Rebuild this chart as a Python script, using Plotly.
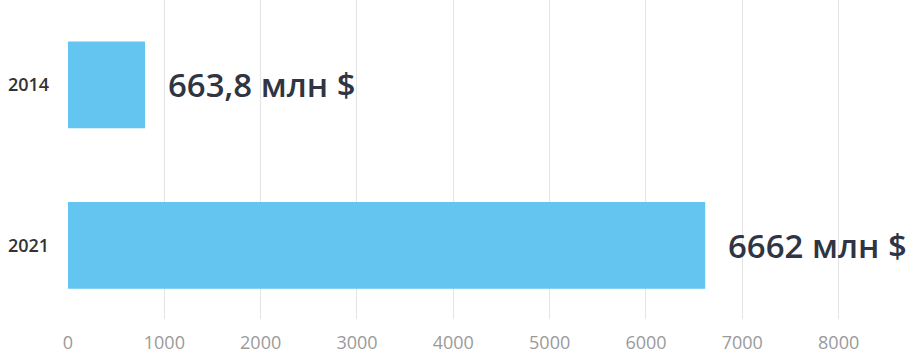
import plotly.graph_objects as go

years = ["2014", "2021"]
bar_values = [800, 6615]          # bar lengths as drawn in the picture
value_labels = ["663,8 млн $", "6662 млн $"]
x_ticks = [0, 1000, 2000, 3000, 4000, 5000, 6000, 7000, 8000]

fig = go.Figure()
fig.add_trace(go.Bar(
    y=years, x=bar_values, orientation="h",
    marker=dict(color="#63c5f0", line=dict(width=0)),
    width=0.54, hoverinfo="skip",
))
for i, (v, t) in enumerate(zip(bar_values, value_labels)):
    fig.add_annotation(
        x=v, y=i, xref="x", yref="y", text=t, showarrow=False,
        xanchor="left", yanchor="middle", xshift=21,
        font=dict(family="Open Sans SemiBold, Open Sans", size=33, color="#2f3542"),
    )

fig.update_layout(
    width=908, height=354,
    margin=dict(l=68, r=0, t=0, b=31),
    paper_bgcolor="white", plot_bgcolor="white",
    showlegend=False,
    xaxis=dict(
        range=[0, 8720], tickvals=x_ticks, showgrid=True, gridcolor="#e4e4e4",
        gridwidth=1, zeroline=False, showline=False,
        tickfont=dict(family="Open Sans", size=18, color="#9a9a9a"),
        ticklabelstandoff=11,
    ),
    yaxis=dict(
        type="category", range=[1.458, -0.529], showgrid=False, zeroline=False,
        showline=False,
        tickfont=dict(family="Open Sans SemiBold, Open Sans", size=18, color="#333333"),
        ticklabelstandoff=18,
    ),
)
fig.write_html("out.html")
